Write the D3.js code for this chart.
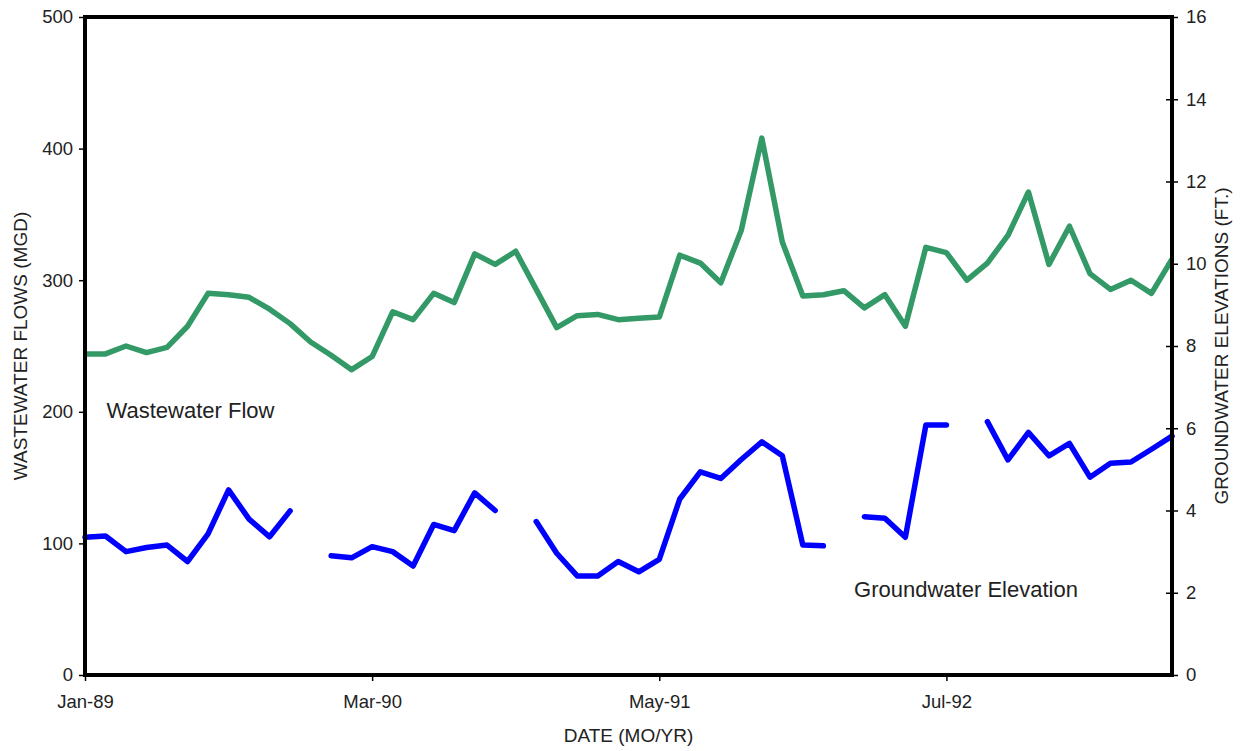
<!DOCTYPE html>
<html>
<head>
<meta charset="utf-8">
<script src="https://cdn.jsdelivr.net/npm/d3@7"></script>
<style>
  body { margin: 0; background: #fff; }
  text { font-family: "Liberation Sans", Arial, sans-serif; fill: #222; }
</style>
</head>
<body>
<div id="display"></div>
<script>
// monthly values, Jan-89 .. Jun-93 (54 months)
var flow = [244, 244, 250, 245, 249, 265, 290, 289, 287, 278,
            267, 253, 243, 232, 242, 276, 270, 290, 283, 320,
            312, 322, 293, 264, 273, 274, 270, 271, 272, 319,
            313, 298, 338, 408, 329, 288, 289, 292, 279, 289,
            265, 325, 321, 300, 313, 334, 367, 312, 341, 305,
            293, 300, 290, 316];

// null = no reading that month (gap in line)
var groundwater = [3.35, 3.38, 3.0, 3.1, 3.16, 2.76, 3.43, 4.5, 3.79, 3.36,
                   3.99, null, 2.9, 2.85, 3.12, 3.0, 2.65, 3.66, 3.51, 4.43,
                   4.0, null, 3.73, 2.96, 2.41, 2.41, 2.76, 2.51, 2.81, 4.28,
                   4.94, 4.78, 5.24, 5.67, 5.33, 3.16, 3.14, null, 3.85, 3.81,
                   3.35, 6.08, 6.08, null, 6.16, 5.23, 5.9, 5.33, 5.63, 4.81,
                   5.15, 5.18, 5.49, 5.81];

var tickMonths = [0, 14, 28, 42];
var tickLabels = ["Jan-89", "Mar-90", "May-91", "Jul-92"];
var leftTicks = [0, 100, 200, 300, 400, 500];
var rightTicks = [0, 2, 4, 6, 8, 10, 12, 14, 16];

var width = 1242, height = 751;
var margin = {left: 85, right: 70, top: 17, bottom: 76};

var svg = d3.select("#display").append("svg")
    .attr("width", width)
    .attr("height", height);

var x = d3.scaleLinear()
    .domain([0, flow.length - 1])
    .range([margin.left, width - margin.right]);

var yLeft = d3.scaleLinear()
    .domain([0, 500])
    .range([height - margin.bottom, margin.top]);

var yRight = d3.scaleLinear()
    .domain([0, 16])
    .range([height - margin.bottom, margin.top]);

// axes
var xAxis = g => g
    .attr("transform", `translate(0,${height - margin.bottom})`)
    .call(d3.axisBottom(x).tickValues(tickMonths)
        .tickFormat((d, i) => tickLabels[i]).tickSize(6).tickSizeOuter(0).tickPadding(14))
    .call(g => g.select(".domain").remove());

var leftAxis = g => g
    .attr("transform", `translate(${margin.left},0)`)
    .call(d3.axisLeft(yLeft).tickValues(leftTicks).tickSize(6).tickSizeOuter(0).tickPadding(6))
    .call(g => g.select(".domain").remove());

var rightAxis = g => g
    .attr("transform", `translate(${width - margin.right},0)`)
    .call(d3.axisRight(yRight).tickValues(rightTicks).tickSize(6).tickSizeOuter(0).tickPadding(8))
    .call(g => g.select(".domain").remove())
    .call(g => g.selectAll(".tick line").attr("x1", -6));

svg.append("g").call(xAxis);
svg.append("g").call(leftAxis);
svg.append("g").call(rightAxis);

svg.selectAll(".tick text")
    .style("font-size", "18.5px")
    .attr("fill", "#222");
svg.selectAll(".tick line")
    .attr("stroke", "#000")
    .attr("stroke-width", 1.5);

// series
var flowLine = d3.line()
    .x((d, i) => x(i))
    .y(d => yLeft(d));

var gwLine = d3.line()
    .defined(d => d !== null)
    .x((d, i) => x(i))
    .y(d => yRight(d));

svg.append("path")
    .datum(flow)
    .attr("fill", "none")
    .attr("stroke", "#339966")
    .attr("stroke-width", 5.5)
    .attr("stroke-linejoin", "round")
    .attr("d", flowLine);

svg.append("path")
    .datum(groundwater)
    .attr("fill", "none")
    .attr("stroke", "#0000ff")
    .attr("stroke-width", 5.5)
    .attr("stroke-linejoin", "round")
    .attr("stroke-linecap", "round")
    .attr("d", gwLine);

// plot frame
svg.append("rect")
    .attr("x", margin.left)
    .attr("y", margin.top)
    .attr("width", width - margin.left - margin.right)
    .attr("height", height - margin.top - margin.bottom)
    .attr("fill", "none")
    .attr("stroke", "#000")
    .attr("stroke-width", 4);

// series labels
svg.append("text")
    .attr("x", x(1) + 1)
    .attr("y", yLeft(195))
    .style("font-size", "22px")
    .text("Wastewater Flow");

svg.append("text")
    .attr("x", x(37.5))
    .attr("y", yRight(1.9))
    .style("font-size", "22px")
    .text("Groundwater Elevation");

// axis titles
var midY = (margin.top + height - margin.bottom) / 2;

svg.append("text")
    .attr("transform", `translate(27,${midY}) rotate(-90)`)
    .attr("text-anchor", "middle")
    .style("font-size", "19px")
    .text("WASTEWATER FLOWS (MGD)");

svg.append("text")
    .attr("transform", `translate(1228,${midY}) rotate(-90)`)
    .attr("text-anchor", "middle")
    .style("font-size", "19px")
    .text("GROUNDWATER ELEVATIONS (FT.)");

svg.append("text")
    .attr("x", (margin.left + width - margin.right) / 2)
    .attr("y", 742)
    .attr("text-anchor", "middle")
    .style("font-size", "19px")
    .text("DATE (MO/YR)");
</script>
</body>
</html>
